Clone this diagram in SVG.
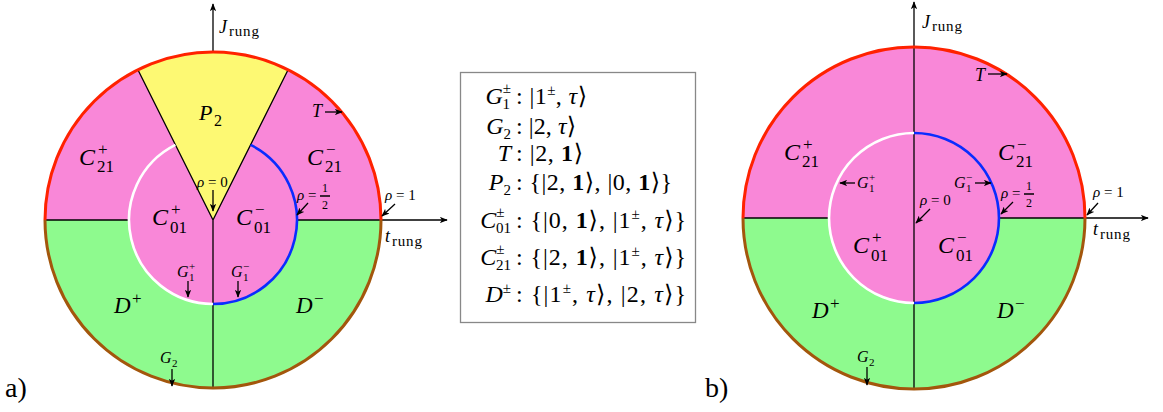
<svg xmlns="http://www.w3.org/2000/svg" width="1163" height="412" viewBox="0 0 1163 412">
<style>
text{font-family:"Liberation Serif","DejaVu Serif",serif;fill:#000}
.i{font-style:italic}
.b{font-weight:bold}
.pk{fill:#f987d8}
.gr{fill:#8efa8e}
.ye{fill:#fdf973}
.ln{stroke:#000;stroke-width:1.3;fill:none}
.ar{stroke:#000;stroke-width:1.3;fill:none;marker-end:url(#ah)}
.red{stroke:#ff2200;stroke-width:3;fill:none}
.brn{stroke:#a3560c;stroke-width:3;fill:none}
.wht{stroke:#fff;stroke-width:2.6;fill:none}
.blu{stroke:#0a2cff;stroke-width:2.6;fill:none}
.big{font-size:24px}
.sc{font-size:17px}
.sm{font-size:15px}
.ss{font-size:11px}
.lg{font-size:24px}
.ls{font-size:15px}
.ax{font-size:18px}
.axs{font-size:15px;letter-spacing:0.8px}
</style>
<defs>
<marker id="ah" viewBox="0 0 10 8" refX="9" refY="4" markerWidth="8" markerHeight="6.5" orient="auto" markerUnits="userSpaceOnUse">
<path d="M0,0 L10,4 L0,8 L2.5,4 z" fill="#000"/>
</marker>
</defs>

<!-- ===== Diagram a) ===== -->
<g id="a-P2"><path class="ye" d="M213,220 L137.9,69.7 A168,168 0 0 1 288.1,69.7 Z"/>
<text class="i" x="199" y="120" font-size="22">P</text><text x="214" y="126" font-size="16">2</text></g>
<g id="a-C21p"><path class="pk" d="M45,220 A168,168 0 0 1 137.9,69.7 L175.4,144.9 A84,84 0 0 0 129,220 Z"/>
<text class="i big" x="79" y="165">C</text><text class="sc" x="98" y="155">+</text><text class="sc" x="97" y="172">21</text></g>
<g id="a-C21m"><path class="pk" d="M381,220 A168,168 0 0 0 288.1,69.7 L250.6,144.9 A84,84 0 0 1 297,220 Z"/>
<text class="i big" x="307" y="165">C</text><text class="sc" x="326" y="155">−</text><text class="sc" x="325" y="172">21</text></g>
<g id="a-C01p"><path class="pk" d="M213,220 L175.4,144.9 A84,84 0 0 0 213,304 Z"/>
<text class="i big" x="152" y="225">C</text><text class="sc" x="171" y="215">+</text><text class="sc" x="170" y="233">01</text></g>
<g id="a-C01m"><path class="pk" d="M213,220 L250.6,144.9 A84,84 0 0 1 213,304 Z"/>
<text class="i big" x="236" y="225">C</text><text class="sc" x="255" y="215">−</text><text class="sc" x="254" y="233">01</text></g>
<g id="a-Dp"><path class="gr" d="M45,220 L129,220 A84,84 0 0 0 213,304 L213,388 A168,168 0 0 1 45,220 Z"/>
<text class="i" x="114" y="313" font-size="23">D</text><text class="sc" x="132" y="304">+</text></g>
<g id="a-Dm"><path class="gr" d="M381,220 L297,220 A84,84 0 0 1 213,304 L213,388 A168,168 0 0 0 381,220 Z"/>
<text class="i" x="296" y="313" font-size="23">D</text><text class="sc" x="314" y="304">−</text></g>

<!-- ===== Diagram b) ===== -->
<g id="b-C21p"><path class="pk" d="M743,218 A171,171 0 0 1 914,47 L914,133 A85,85 0 0 0 829,218 Z"/>
<text class="i big" x="784" y="160">C</text><text class="sc" x="803" y="150">+</text><text class="sc" x="802" y="167">21</text></g>
<g id="b-C21m"><path class="pk" d="M1085,218 A171,171 0 0 0 914,47 L914,133 A85,85 0 0 1 999,218 Z"/>
<text class="i big" x="998" y="160">C</text><text class="sc" x="1017" y="150">−</text><text class="sc" x="1016" y="167">21</text></g>
<g id="b-C01p"><path class="pk" d="M914,133 A85,85 0 0 0 914,303 Z"/>
<text class="i big" x="853" y="253">C</text><text class="sc" x="872" y="243">+</text><text class="sc" x="871" y="261">01</text></g>
<g id="b-C01m"><path class="pk" d="M914,133 A85,85 0 0 1 914,303 Z"/>
<text class="i big" x="938" y="253">C</text><text class="sc" x="957" y="243">−</text><text class="sc" x="956" y="261">01</text></g>
<g id="b-Dp"><path class="gr" d="M743,218 L829,218 A85,85 0 0 0 914,303 L914,389 A171,171 0 0 1 743,218 Z"/>
<text class="i" x="812" y="318" font-size="23">D</text><text class="sc" x="830" y="309">+</text></g>
<g id="b-Dm"><path class="gr" d="M1085,218 L999,218 A85,85 0 0 1 914,303 L914,389 A171,171 0 0 0 1085,218 Z"/>
<text class="i" x="997" y="318" font-size="23">D</text><text class="sc" x="1015" y="309">−</text></g>

<!-- ===== connectors: axes, boundaries, pointer arrows ===== -->
<g id="connectors">
<path class="ln" d="M213,220 L137.9,69.7 M213,220 L288.1,69.7 M213,220 L213,388 M45,220 L129,220"/>
<path class="ar" d="M213,52 L213,4"/>
<path class="ar" d="M297,220 L447,220"/>
<path class="red" d="M45,220 A168,168 0 0 1 381,220"/>
<path class="brn" d="M45,220 A168,168 0 0 0 381,220"/>
<path class="wht" d="M175.4,144.9 A84,84 0 0 0 213,304"/>
<path class="blu" d="M250.6,144.9 A84,84 0 0 1 213,304"/>
<path class="ar" d="M325,112 L342,112"/>
<path class="ar" d="M213,190 L213,211"/>
<path class="ar" d="M308,203 L297,215"/>
<path class="ar" d="M395,204 L382,216"/>
<path class="ar" d="M188,281 L188,297"/>
<path class="ar" d="M238,281 L238,297"/>
<path class="ar" d="M172,369 L172,386"/>
<path class="ln" d="M743,218 L829,218"/>
<path class="ar" d="M914,389 L914,2"/>
<path class="ar" d="M999,218 L1148,218"/>
<path class="red" d="M743,218 A171,171 0 0 1 1085,218"/>
<path class="brn" d="M743,218 A171,171 0 0 0 1085,218"/>
<path class="wht" d="M914,133 A85,85 0 0 0 914,303"/>
<path class="blu" d="M914,133 A85,85 0 0 1 914,303"/>
<path class="ar" d="M988,74 L1007,74"/>
<path class="ar" d="M855,183 L840,183"/>
<path class="ar" d="M975,183 L991,183"/>
<path class="ar" d="M930,209 L916,223"/>
<path class="ar" d="M1013,202 L1001,214"/>
<path class="ar" d="M1098,203 L1087,215"/>
<path class="ar" d="M867,367 L867,385"/>
<path class="ln" d="M320,196 L330,196 M1024,194 L1034,194" stroke-width="0.8"/>
</g>

<!-- ===== point / axis labels ===== -->
<g id="a-labels">
<text class="i ax" x="219" y="33">J</text><text class="axs" x="229" y="36">rung</text>
<text class="i ax" x="385" y="242">t</text><text class="axs" x="392" y="246">rung</text>
<text class="i ax" x="312" y="117">T</text>
<text class="sm" x="197" y="187"><tspan class="i">ρ</tspan> = 0</text>
<text class="sm" x="297" y="200"><tspan class="i">ρ</tspan> =</text>
<text x="322" y="192" font-size="12">1</text><text x="322" y="209" font-size="12">2</text>
<text class="sm" x="385" y="200"><tspan class="i">ρ</tspan> = 1</text>
<text class="i" x="177" y="277" font-size="16">G</text><text class="ss" x="189" y="270">+</text><text class="ss" x="189" y="281">1</text>
<text class="i" x="231" y="277" font-size="16">G</text><text class="ss" x="243" y="270">−</text><text class="ss" x="243" y="281">1</text>
<text class="i" x="160" y="363" font-size="16">G</text><text class="ss" x="172" y="367">2</text>
<text x="5" y="397" font-size="28">a)</text>
</g>
<g id="b-labels">
<text class="i ax" x="922" y="28">J</text><text class="axs" x="932" y="31">rung</text>
<text class="i ax" x="1093" y="235">t</text><text class="axs" x="1100" y="239">rung</text>
<text class="i ax" x="975" y="81">T</text>
<text class="i" x="857" y="188" font-size="16">G</text><text class="ss" x="869" y="181">+</text><text class="ss" x="869" y="192">1</text>
<text class="i" x="954" y="188" font-size="16">G</text><text class="ss" x="966" y="181">−</text><text class="ss" x="966" y="192">1</text>
<text class="sm" x="920" y="205"><tspan class="i">ρ</tspan> = 0</text>
<text class="sm" x="1001" y="198"><tspan class="i">ρ</tspan> =</text>
<text x="1026" y="190" font-size="12">1</text><text x="1026" y="207" font-size="12">2</text>
<text class="sm" x="1093" y="197"><tspan class="i">ρ</tspan> = 1</text>
<text class="i" x="857" y="362" font-size="16">G</text><text class="ss" x="869" y="366">2</text>
<text x="705" y="397" font-size="28">b)</text>
</g>

<!-- ===== legend ===== -->
<g id="legend">
<rect x="460.5" y="72.5" width="235" height="250" fill="#fff" stroke="#888" stroke-width="1.3"/>
<text x="511" y="104" text-anchor="end" class="lg"><tspan class="i">G</tspan><tspan class="ls" dy="-11">±</tspan><tspan class="ls" dx="-8.5" dy="16">1</tspan></text>
<text x="516" y="104" class="lg" textLength="71">: |1<tspan class="ls" dy="-9">±</tspan><tspan dy="9">, </tspan><tspan class="i">τ</tspan>⟩</text>

<text x="511" y="134" text-anchor="end" class="lg"><tspan class="i">G</tspan><tspan class="ls" dy="5">2</tspan></text>
<text x="516" y="134" class="lg" textLength="60">: |2, <tspan class="i">τ</tspan>⟩</text>

<text x="511" y="161" text-anchor="end" class="lg"><tspan class="i">T</tspan></text>
<text x="516" y="161" class="lg" textLength="67">: |2, <tspan class="b">1</tspan>⟩</text>

<text x="511" y="190" text-anchor="end" class="lg"><tspan class="i">P</tspan><tspan class="ls" dy="5">2</tspan></text>
<text x="516" y="190" class="lg" textLength="156">: {|2, <tspan class="b">1</tspan>⟩, |0, <tspan class="b">1</tspan>⟩}</text>

<text x="511" y="228" text-anchor="end" class="lg"><tspan class="i">C</tspan><tspan class="ls" dy="-11">±</tspan><tspan class="ls" dx="-8.5" dy="16">01</tspan></text>
<text x="516" y="228" class="lg" textLength="170">: {|0, <tspan class="b">1</tspan>⟩, |1<tspan class="ls" dy="-9">±</tspan><tspan dy="9">, </tspan><tspan class="i">τ</tspan>⟩}</text>

<text x="511" y="265" text-anchor="end" class="lg"><tspan class="i">C</tspan><tspan class="ls" dy="-11">±</tspan><tspan class="ls" dx="-8.5" dy="16">21</tspan></text>
<text x="516" y="265" class="lg" textLength="170">: {|2, <tspan class="b">1</tspan>⟩, |1<tspan class="ls" dy="-9">±</tspan><tspan dy="9">, </tspan><tspan class="i">τ</tspan>⟩}</text>

<text x="511" y="302" text-anchor="end" class="lg"><tspan class="i">D</tspan><tspan class="ls" dy="-9">±</tspan></text>
<text x="516" y="302" class="lg" textLength="170">: {|1<tspan class="ls" dy="-9">±</tspan><tspan dy="9">, </tspan><tspan class="i">τ</tspan>⟩, |2, <tspan class="i">τ</tspan>⟩}</text>
</g>
</svg>
